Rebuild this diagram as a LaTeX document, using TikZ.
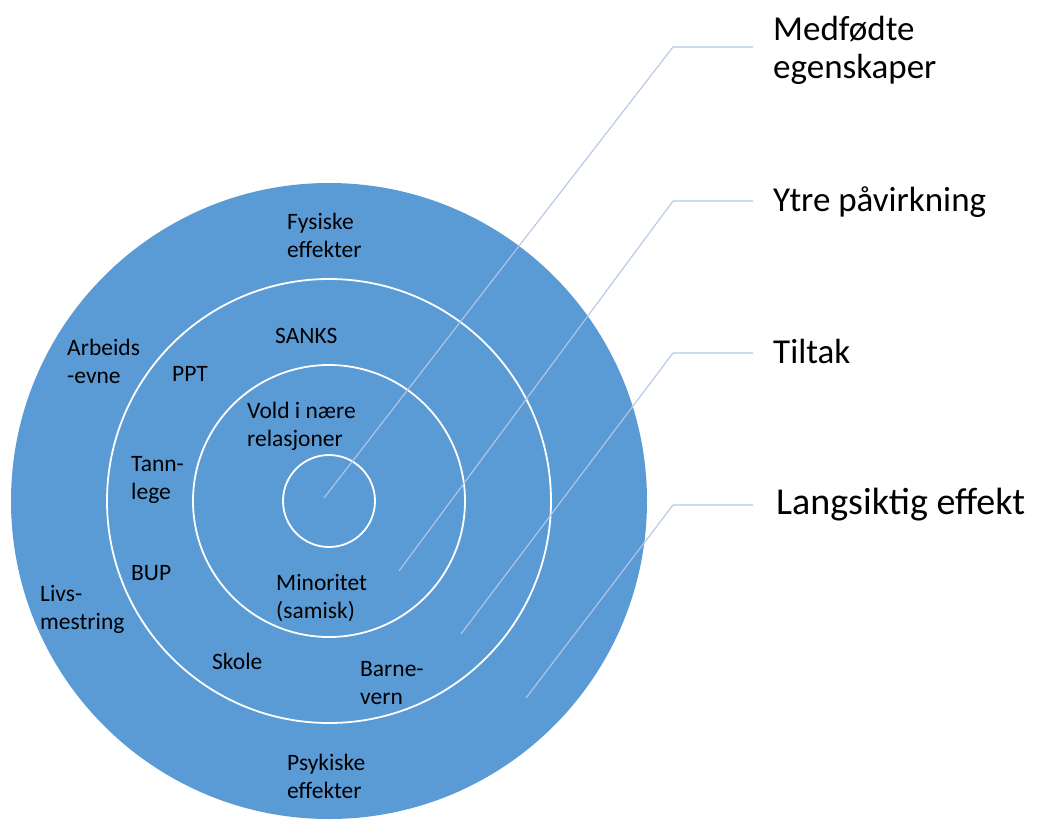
\documentclass[tikz,border=0pt]{standalone}
\usepackage{fontspec}
\setmainfont{Carlito}
\definecolor{ringblue}{HTML}{5B9BD5}
\definecolor{leader}{HTML}{B4C7E7}
\begin{document}
\begin{tikzpicture}[x=1pt,y=-1pt,
  disc/.style={circle,fill=ringblue,inner sep=0pt,outer sep=0pt},
  ring/.style={circle,draw=white,line width=1.8pt,inner sep=0pt,outer sep=0pt},
  lead/.style={draw=leader,line width=1.1pt},
  inlab/.style={inner sep=0pt,anchor=base west,align=left,font=\fontsize{23.5}{28.5}\selectfont},
  outlab/.style={inner sep=0pt,anchor=base west,align=left,font=\fontsize{35}{38}\selectfont}]
\useasboundingbox (0,0) rectangle (1043,819);
% circles
\node[disc,minimum size=636pt] (outer) at (329,501) {};
\node[ring,minimum size=444pt] (mid) at (329,501) {};
\node[ring,minimum size=272pt] (inner) at (329,501) {};
\node[ring,minimum size=92pt] (core) at (329,501) {};
% inner labels (base anchor = baseline of last line)
\node[inlab] (fys) at (287,257.5) {Fysiske\\effekter};
\node[inlab] (sanks) at (275,343) {SANKS};
\node[inlab] (arb) at (67,383.5) {Arbeids\\-evne};
\node[inlab] (ppt) at (172,381) {PPT};
\node[inlab] (vold) at (247,446.5) {Vold i nære\\relasjoner};
\node[inlab] (tann) at (131,499.5) {Tann-\\lege};
\node[inlab] (bup) at (131,580) {BUP};
\node[inlab] (livs) at (40,629.5) {Livs-\\mestring};
\node[inlab] (min) at (276,618.5) {Minoritet\\(samisk)};
\node[inlab] (skole) at (212,669) {Skole};
\node[inlab] (barne) at (360,704.5) {Barne-\\vern};
\node[inlab] (psyk) at (287,798.5) {Psykiske\\effekter};
% outer labels
\node[outlab] (l1) at (773,78) {Medfødte\\egenskaper};
\node[outlab] (l2) at (773,211) {Ytre påvirkning};
\node[outlab] (l3) at (773,363) {Tiltak};
\node[outlab,font=\fontsize{38}{41}\selectfont] (l4) at (776,514) {Langsiktig effekt};
% leader coordinates
\coordinate (s1) at (324,498);
\coordinate (b1) at (673,47);
\coordinate (e1) at (753,47);
\coordinate (s2) at (399,571);
\coordinate (b2) at (673,201);
\coordinate (e2) at (753,201);
\coordinate (s3) at (461,634);
\coordinate (b3) at (673,353);
\coordinate (e3) at (753,353);
\coordinate (s4) at (526,698);
\coordinate (b4) at (673,505);
\coordinate (e4) at (753,505);
\draw[lead] (s1) -- (b1) -- (e1);
\draw[lead] (s2) -- (b2) -- (e2);
\draw[lead] (s3) -- (b3) -- (e3);
\draw[lead] (s4) -- (b4) -- (e4);
\end{tikzpicture}
\end{document}
